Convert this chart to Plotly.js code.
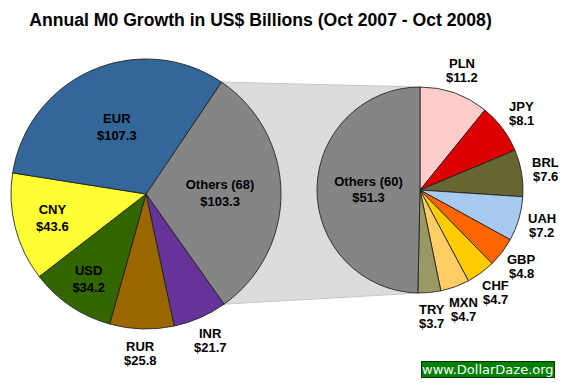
<!DOCTYPE html>
<html>
<head>
<meta charset="utf-8">
<script src="https://cdn.plot.ly/plotly-3.0.1.min.js"></script>
<style>html,body{margin:0;padding:0;background:#fff;}#chart{width:564px;height:383px;}</style>
</head>
<body>
<div id="chart"></div>
<script>
// ---- data ----
var mainLabels = ["Others (68)", "INR", "RUR", "USD", "CNY", "EUR"];
var mainValues = [103.3, 21.7, 25.8, 34.2, 43.6, 107.3];
var subLabels = ["PLN", "JPY", "BRL", "UAH", "GBP", "CHF", "MXN", "TRY", "Others (60)"];
var subValues = [11.2, 8.1, 7.6, 7.2, 4.8, 4.7, 4.7, 3.7, 51.3];
var titleText = "Annual M0 Growth in US$ Billions (Oct 2007 - Oct 2008)";
var watermark = "www.DollarDaze.org";

// ---- styles / layout ----
var W = 564, H = 383;
var mainColors = ["#858585", "#663399", "#996600", "#336600", "#ffff33", "#336699"];
var subColors = ["#ffcccc", "#dd0000", "#666633", "#a6caf0", "#ff6600", "#ffcc00", "#ffcc66", "#999966", "#858585"];
var mainOutside = [false, true, true, false, false, false];
var subOutside = [true, true, true, true, true, true, true, true, false];

var main = {cx: 146, cy: 194, r: 135, rot: 34, off: 25};
var sub = {cx: 420, cy: 190, r: 103, rot: 0, off: 24};

function dom(p) {
  return {
    x: [(p.cx - p.r) / W, (p.cx + p.r) / W],
    y: [1 - (p.cy + p.r) / H, 1 - (p.cy - p.r) / H]
  };
}

var FAM = "Liberation Sans, Arial, sans-serif";
var font = {family: FAM, size: 13, color: "#000"};
var lineStyle = {color: "rgba(30,30,30,0.85)", width: 1};

function makePie(labels, values, colors, outside, p) {
  return {
    type: "pie", labels: labels, values: values, sort: false,
    direction: "clockwise", rotation: p.rot, domain: dom(p),
    marker: {colors: colors, line: lineStyle},
    textposition: outside.map(function(o) { return o ? "none" : "inside"; }),
    texttemplate: "<b>%{label}<br>$%{value:.1f}</b>",
    insidetextorientation: "horizontal",
    textfont: font, insidetextfont: font,
    hoverinfo: "none", showlegend: false
  };
}

function outsideLabels(labels, values, outside, p) {
  var total = values.reduce(function(a, b) { return a + b; }, 0);
  var cum = 0, out = [];
  values.forEach(function(v, i) {
    var mid = (p.rot + 360 * (cum + v / 2) / total) * Math.PI / 180;
    cum += v;
    if (!outside[i]) return;
    var R = p.r + p.off;
    var x = (p.cx + R * Math.sin(mid)) / W;
    var y = 1 - (p.cy - R * Math.cos(mid)) / H;
    [["<b>" + labels[i] + "</b>", 7], ["<b>$" + v.toFixed(1) + "</b>", -7]].forEach(function(t) {
      out.push({text: t[0], xref: "paper", yref: "paper", x: x, y: y, yshift: t[1],
                xanchor: "center", yanchor: "middle", showarrow: false, font: font});
    });
  });
  return out;
}

// connector band derived from the pie geometry
var total = mainValues.reduce(function(a, b) { return a + b; }, 0);
var a1 = main.rot * Math.PI / 180;
var a2 = a1 + 2 * Math.PI * mainValues[0] / total;
function px(p, a) { return [p.cx + p.r * Math.sin(a), p.cy - p.r * Math.cos(a)]; }
function toPaper(pt) { return (pt[0] / W).toFixed(4) + "," + (1 - pt[1] / H).toFixed(4); }
var p1 = px(main, a1), p2 = px(main, a2);
var q1 = [sub.cx, sub.cy - sub.r], q2 = [sub.cx, sub.cy + sub.r];
var path = "M" + toPaper(p1) + " L" + toPaper(q1) + " L" + toPaper(q2) + " L" + toPaper(p2) + " Z";

var annotations = outsideLabels(mainLabels, mainValues, mainOutside, main)
  .concat(outsideLabels(subLabels, subValues, subOutside, sub));
annotations.push({text: watermark, xref: "paper", yref: "paper", x: 487.5 / W, y: 1 - 369 / H,
                  xanchor: "center", yanchor: "middle", showarrow: false,
                  bgcolor: "#007f00", bordercolor: "#003300", borderwidth: 1, borderpad: 0,
                  font: {family: "DejaVu Sans, Verdana, sans-serif", size: 13, color: "#fff"}});

var layout = {
  width: W, height: H,
  margin: {l: 0, r: 0, t: 0, b: 0},
  paper_bgcolor: "#fff", plot_bgcolor: "#fff",
  title: {text: "<b>" + titleText + "</b>", x: 0.462, xanchor: "center", y: 1 - 20 / H, yanchor: "middle", yref: "container",
          font: {family: FAM, size: 17.6, color: "#000"}},
  shapes: [{type: "path", xref: "paper", yref: "paper", path: path, fillcolor: "#dcdcdc",
            line: {color: "#c8c8c8", width: 1}, layer: "below"}],
  annotations: annotations
};

Plotly.newPlot("chart", [makePie(mainLabels, mainValues, mainColors, mainOutside, main),
                         makePie(subLabels, subValues, subColors, subOutside, sub)],
               layout, {staticPlot: true, displayModeBar: false});
</script>
</body>
</html>
